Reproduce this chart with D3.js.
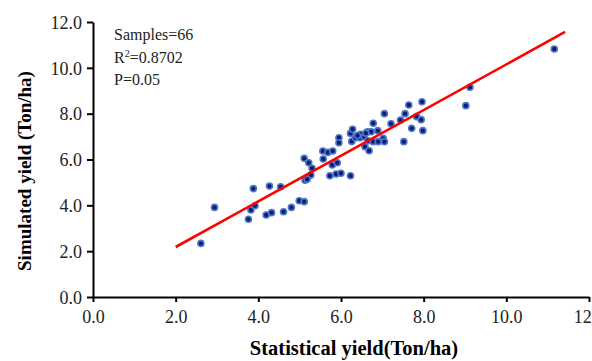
<!DOCTYPE html>
<html>
<head>
<meta charset="utf-8">
<script src="https://cdn.jsdelivr.net/npm/d3@7"></script>
<style>
  html, body { margin: 0; padding: 0; background: #fff; }
  svg { display: block; }
  text { font-family: "Liberation Serif", "Times New Roman", serif; }
</style>
</head>
<body>
<svg id="chart" width="592" height="361"></svg>
<script>
// Statistical yield (x) vs simulated yield (y), Ton/ha
const statisticalYield = [2.61, 2.94, 3.76, 3.82, 3.88, 3.92, 4.19, 4.27, 4.32, 4.54, 4.61, 4.80, 4.99, 5.11,
  5.13, 5.11, 5.22, 5.27, 5.30, 5.56, 5.57, 5.68, 5.73, 5.79, 5.80, 5.88, 5.91, 5.95, 5.95, 6.00,
  6.23, 6.23, 6.26, 6.28, 6.35, 6.46, 6.47, 6.56, 6.58, 6.64, 6.65, 6.68, 6.73, 6.78, 6.78, 6.89,
  6.90, 7.02, 7.05, 7.05, 7.21, 7.44, 7.52, 7.55, 7.64, 7.71, 7.83, 7.94, 7.96, 7.98, 9.02, 9.12,
  11.16, 5.18, 6.40, 6.60];
const simulatedYield = [2.34, 3.91, 3.39, 3.80, 4.73, 3.98, 3.58, 4.84, 3.68, 4.81, 3.72, 3.91, 4.20, 4.16,
  5.10, 6.05, 5.86, 5.32, 5.62, 6.37, 6.02, 6.31, 5.29, 5.76, 6.37, 5.37, 5.86, 6.95, 6.73, 5.40,
  5.29, 7.14, 6.79, 7.32, 6.95, 6.95, 7.10, 6.99, 6.56, 7.21, 6.82, 6.38, 7.21, 7.58, 6.78, 7.26,
  6.78, 6.92, 6.78, 8.00, 7.56, 7.72, 6.78, 8.00, 8.38, 7.36, 7.87, 7.74, 8.52, 7.26, 8.35, 9.15,
  10.82, 5.14, 7.05, 7.15];
// Fitted regression line
const fitSlope = 0.996;
const fitIntercept = 0.19;
const fitRange = [2.0, 11.42];
const xTicks = [0, 2, 4, 6, 8, 10, 12];
const yTicks = [0, 2, 4, 6, 8, 10, 12];
const statsLines = ["Samples=66", "R2=0.8702", "P=0.05"];

const svg = d3.select("#chart");
const margin = {left: 93, top: 22, right: 3, bottom: 64};
const W = 592, H = 361;
const x = d3.scaleLinear().domain([0, 12]).range([margin.left, W - margin.right]);
const y = d3.scaleLinear().domain([0, 12]).range([H - margin.bottom, margin.top]);

const xAxis = svg.append("g")
  .attr("transform", `translate(0,${y(0)})`)
  .call(d3.axisBottom(x).tickValues(xTicks).tickFormat(d3.format(".1f")).tickSize(5).tickSizeOuter(0));
const yAxis = svg.append("g")
  .attr("transform", `translate(${x(0)},0)`)
  .call(d3.axisLeft(y).tickValues(yTicks).tickFormat(d3.format(".1f")).tickSize(6).tickSizeOuter(0));

[xAxis, yAxis].forEach(g => {
  g.select(".domain").attr("stroke", "#000").attr("stroke-width", 2);
  g.selectAll(".tick line").attr("stroke", "#000").attr("stroke-width", 2);
  g.selectAll(".tick text").attr("fill", "#222").style("font-size", "18px")
    .style("font-family", '"Liberation Serif", "Times New Roman", serif');
});
xAxis.selectAll(".tick text").attr("dy", null).attr("y", 26);
yAxis.selectAll(".tick text").attr("x", -11).attr("dy", "0.35em");

// points
svg.append("g").selectAll("circle")
  .data(statisticalYield.map((v, i) => [v, simulatedYield[i]]))
  .join("circle")
  .attr("cx", d => x(d[0]))
  .attr("cy", d => y(d[1]))
  .attr("r", 3)
  .attr("fill", "#0b1f78")
  .attr("stroke", "#4f78c4")
  .attr("stroke-width", 1.6);

// regression line
svg.append("line")
  .attr("x1", x(fitRange[0])).attr("y1", y(fitSlope * fitRange[0] + fitIntercept))
  .attr("x2", x(fitRange[1])).attr("y2", y(fitSlope * fitRange[1] + fitIntercept))
  .attr("stroke", "#ff0000").attr("stroke-width", 2.6);

// stats text
const st = svg.append("g").style("font-size", "16px").attr("fill", "#222");
st.append("text").attr("x", 114).attr("y", 40).text(statsLines[0]);
const r2 = st.append("text").attr("x", 114).attr("y", 63);
r2.append("tspan").text("R");
r2.append("tspan").attr("dy", -6).style("font-size", "10px").text("2");
r2.append("tspan").attr("dy", 6).text("=0.8702");
st.append("text").attr("x", 114).attr("y", 85).text(statsLines[2]);

// axis titles
svg.append("text")
  .attr("x", 354).attr("y", 355)
  .attr("text-anchor", "middle")
  .style("font-size", "20.5px").style("font-weight", "bold")
  .text("Statistical yield(Ton/ha)");
svg.append("text")
  .attr("transform", "translate(31,171) rotate(-90)")
  .attr("text-anchor", "middle")
  .style("font-size", "19px").style("font-weight", "bold")
  .text("Simulated yield (Ton/ha)");
</script>
</body>
</html>
